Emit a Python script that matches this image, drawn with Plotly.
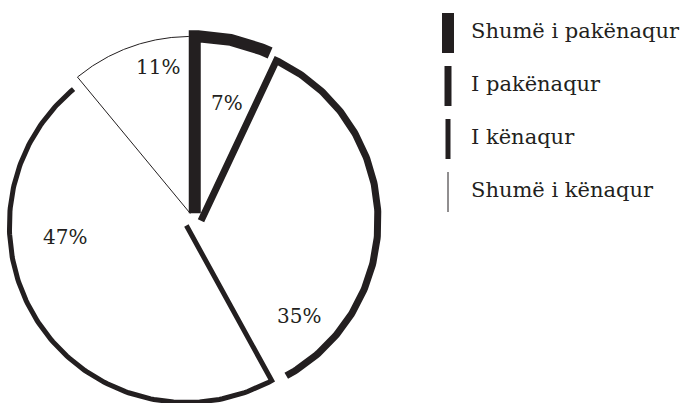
import numpy as np
import plotly.graph_objects as go

# Satisfaction survey: share of answers per category
categories = ["Shumë i pakënaqur", "I pakënaqur", "I kënaqur", "Shumë i kënaqur"]
values = [7, 35, 47, 11]
value_labels = ["7%", "35%", "47%", "11%"]

# Outline weight encodes the category (no fill colours)
stroke_widths = [12, 7, 5, 1]

INK = "#231f20"
FONT = "DejaVu Serif"
W, H = 682, 403

# Pie geometry in pixel units (axes span the whole canvas)
CX, CY, R, PULL = 193, 221, 177, 8

# Where each percentage label sits
label_pos = [(227, 103), (299, 316), (65, 237), (158, 67)]

fig = go.Figure()

total = float(sum(values))
start = 0.0
for cat, v, w in zip(categories, values, stroke_widths):
    span = 360.0 * v / total
    end = start + span
    mid = np.radians(start + span / 2)
    # slice vertex pushed outward along its bisector
    ox = CX + PULL * np.sin(mid)
    oy = CY - PULL * np.cos(mid)
    theta = np.radians(np.linspace(start, end, 160))
    xs = [ox] + list(ox + R * np.sin(theta))
    ys = [oy] + list(oy - R * np.cos(theta))
    fig.add_trace(go.Scatter(
        x=xs, y=ys, mode="lines", name=cat,
        line=dict(color=INK, width=w),
        showlegend=False, hoverinfo="skip",
    ))
    start = end

for txt, (lx, ly) in zip(value_labels, label_pos):
    fig.add_annotation(x=lx, y=ly, text=txt, showarrow=False,
                       xanchor="center", yanchor="middle",
                       font=dict(family=FONT, size=20, color=INK))

# Legend: vertical strokes of the matching weight
LEG_X, LEG_Y0, LEG_STEP, LEG_H = 448, 33, 53, 40
for i, (cat, w) in enumerate(zip(categories, stroke_widths)):
    yc = LEG_Y0 + i * LEG_STEP
    fig.add_shape(type="line", xref="x", yref="y",
                  x0=LEG_X, x1=LEG_X, y0=yc - LEG_H / 2, y1=yc + LEG_H / 2,
                  line=dict(color=INK, width=w))
    fig.add_annotation(x=469, y=yc - 2, text=cat, showarrow=False,
                       xanchor="left", yanchor="middle",
                       font=dict(family=FONT, size=21, color=INK))

fig.update_layout(
    width=W, height=H,
    margin=dict(l=0, r=0, t=0, b=0),
    paper_bgcolor="white", plot_bgcolor="white",
    xaxis=dict(range=[0, W], visible=False, fixedrange=True),
    yaxis=dict(range=[H, 0], visible=False, fixedrange=True),
    showlegend=False,
)

fig.write_html("out.html")
